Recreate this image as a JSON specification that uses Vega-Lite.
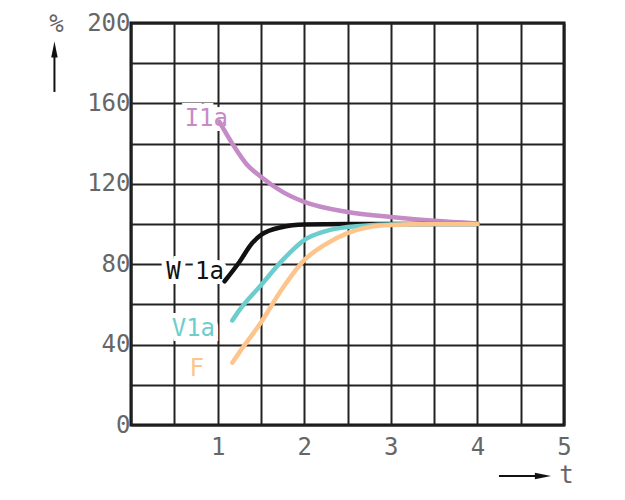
{
  "$schema": "https://vega.github.io/schema/vega-lite/v6.json",
  "width": 433,
  "height": 402,
  "autosize": "none",
  "padding": {"left": 131, "top": 23, "right": 61, "bottom": 75},
  "background": "white",
  "view": {"stroke": "#111", "strokeWidth": 3},
  "config": {
    "font": "DejaVu Sans Mono",
    "axis": {
      "grid": true,
      "gridColor": "#222",
      "gridWidth": 2,
      "gridOpacity": 1,
      "domain": false,
      "ticks": false,
      "labelFont": "DejaVu Sans Mono",
      "labelFontSize": 24,
      "labelColor": "#666",
      "titleFont": "DejaVu Sans Mono",
      "titleFontSize": 24,
      "titleFontWeight": "normal",
      "titleColor": "#666"
    }
  },
  "datasets": {
    "curves": [
      {"series": "I1a", "t": 1.02, "pct": 151},
      {"series": "I1a", "t": 1.17, "pct": 140},
      {"series": "I1a", "t": 1.33, "pct": 130},
      {"series": "I1a", "t": 1.5, "pct": 123.5},
      {"series": "I1a", "t": 1.75, "pct": 116},
      {"series": "I1a", "t": 2, "pct": 111},
      {"series": "I1a", "t": 2.5, "pct": 106},
      {"series": "I1a", "t": 3, "pct": 103.5},
      {"series": "I1a", "t": 3.5, "pct": 101.6},
      {"series": "I1a", "t": 4, "pct": 100.3},
      {"series": "W1a", "t": 1.08, "pct": 71.5},
      {"series": "W1a", "t": 1.25, "pct": 81},
      {"series": "W1a", "t": 1.4, "pct": 90.5},
      {"series": "W1a", "t": 1.5, "pct": 94.5},
      {"series": "W1a", "t": 1.75, "pct": 98.5},
      {"series": "W1a", "t": 2, "pct": 99.7},
      {"series": "W1a", "t": 2.5, "pct": 100},
      {"series": "W1a", "t": 3, "pct": 100},
      {"series": "W1a", "t": 4, "pct": 100},
      {"series": "V1a", "t": 1.17, "pct": 52},
      {"series": "V1a", "t": 1.25, "pct": 57},
      {"series": "V1a", "t": 1.5, "pct": 69.5},
      {"series": "V1a", "t": 1.75, "pct": 82},
      {"series": "V1a", "t": 2, "pct": 92},
      {"series": "V1a", "t": 2.25, "pct": 96.5},
      {"series": "V1a", "t": 2.5, "pct": 98.5},
      {"series": "V1a", "t": 3, "pct": 99.8},
      {"series": "V1a", "t": 3.5, "pct": 100},
      {"series": "V1a", "t": 4, "pct": 100},
      {"series": "F", "t": 1.17, "pct": 31},
      {"series": "F", "t": 1.25, "pct": 36},
      {"series": "F", "t": 1.5, "pct": 51},
      {"series": "F", "t": 1.75, "pct": 68},
      {"series": "F", "t": 2, "pct": 82},
      {"series": "F", "t": 2.25, "pct": 90},
      {"series": "F", "t": 2.5, "pct": 95.5},
      {"series": "F", "t": 2.75, "pct": 98.5},
      {"series": "F", "t": 3, "pct": 99.5},
      {"series": "F", "t": 3.5, "pct": 100},
      {"series": "F", "t": 4, "pct": 100}
    ],
    "labels": [
      {"series": "I1a", "text": "I1a", "t": 0.87, "pct": 152},
      {"series": "W1a", "text": "W 1a", "t": 0.74, "pct": 76},
      {"series": "V1a", "text": "V1a", "t": 0.72, "pct": 48},
      {"series": "F", "text": "F", "t": 0.76, "pct": 28}
    ],
    "arrows": [
      {"dir": "y", "t": -0.884, "t2": -0.884, "pct": 165.7, "pct2": 185.6, "ht": -0.884, "hp": 186.8},
      {"dir": "x", "t": 4.249, "t2": 4.72, "pct": -25.4, "pct2": -25.4, "ht": 4.757, "hp": -25.4}
    ]
  },
  "encoding": {
    "x": {
      "field": "t",
      "type": "quantitative",
      "scale": {"domain": [0, 5], "nice": false, "zero": false},
      "axis": {
        "values": [0, 0.5, 1, 1.5, 2, 2.5, 3, 3.5, 4, 4.5, 5],
        "labelExpr": "datum.value > 0 && datum.value % 1 == 0 ? format(datum.value, 'd') : ''",
        "labelPadding": 10,
        "labelFlush": false,
        "labelOverlap": false,
        "title": "t",
        "titleX": 435,
        "titleY": 50,
        "titleAlign": "center",
        "titleBaseline": "middle"
      }
    },
    "y": {
      "field": "pct",
      "type": "quantitative",
      "scale": {"domain": [0, 200], "nice": false},
      "axis": {
        "values": [0, 20, 40, 60, 80, 100, 120, 140, 160, 180, 200],
        "labelExpr": "datum.value % 40 == 0 ? datum.label : ''",
        "labelPadding": 1,
        "labelBaseline": "middle",
        "labelFlush": false,
        "labelOverlap": false,
        "title": "%",
        "titleAngle": 0,
        "titleX": -75,
        "titleY": 1,
        "titleAlign": "center",
        "titleBaseline": "middle"
      }
    }
  },
  "layer": [
    {
      "data": {"name": "labels"},
      "mark": {"type": "text", "fontSize": 24, "font": "DejaVu Sans Mono", "stroke": "white", "strokeWidth": 10, "fill": "white", "align": "center", "baseline": "middle"},
      "encoding": {"text": {"field": "text"}}
    },
    {
      "data": {"name": "curves"},
      "mark": {"type": "line", "interpolate": "monotone", "strokeWidth": 4.5, "strokeCap": "round"},
      "encoding": {
        "color": {
          "field": "series",
          "type": "nominal",
          "scale": {"domain": ["I1a", "W1a", "V1a", "F"], "range": ["#c58bc6", "#111111", "#6dcdcd", "#fdc48c"]},
          "legend": null
        }
      }
    },
    {
      "data": {"name": "labels"},
      "mark": {"type": "text", "fontSize": 24, "font": "DejaVu Sans Mono", "align": "center", "baseline": "middle"},
      "encoding": {
        "text": {"field": "text"},
        "color": {
          "field": "series",
          "type": "nominal",
          "scale": {"domain": ["I1a", "W1a", "V1a", "F"], "range": ["#c58bc6", "#444444", "#6dcdcd", "#fdc48c"]},
          "legend": null
        }
      }
    },
    {
      "data": {"name": "arrows"},
      "mark": {"type": "rule", "color": "#111", "strokeWidth": 2},
      "encoding": {
        "x2": {"field": "t2"},
        "y2": {"field": "pct2"}
      }
    },
    {
      "data": {"name": "arrows"},
      "mark": {"type": "point", "filled": true, "color": "#111", "opacity": 1, "size": 260},
      "encoding": {
        "x": {"field": "ht", "type": "quantitative"},
        "y": {"field": "hp", "type": "quantitative"},
        "shape": {
          "field": "dir",
          "type": "nominal",
          "scale": {"domain": ["y", "x"], "range": ["M-0.4,1L0,-1L0.4,1Z", "M-1,-0.4L1,0L-1,0.4Z"]},
          "legend": null
        }
      }
    }
  ]
}
